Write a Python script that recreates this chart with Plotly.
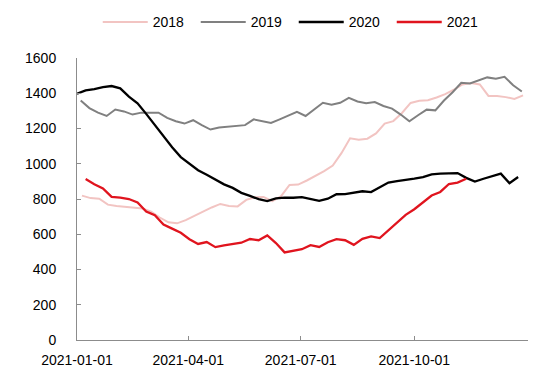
import pandas as pd
import plotly.graph_objects as go

# ---- data (weekly observations, mapped onto a 2021 calendar) ----
series_names = ["2018", "2019", "2020", "2021"]
start_dates = ["2021-01-05", "2021-01-04", "2021-01-01", "2021-01-08"]

values_2018 = [819, 805, 802, 768, 760, 756, 750, 746, 728, 695, 668, 662, 680, 705,
               728, 752, 772, 760, 758, 795, 810, 812, 788, 815, 880, 882, 905, 930,
               958, 990, 1060, 1144, 1136, 1142, 1172, 1228, 1242, 1288, 1345, 1357,
               1360, 1376, 1395, 1420, 1450, 1458, 1450, 1385, 1384, 1378, 1368, 1388]
values_2019 = [1359, 1316, 1290, 1271, 1308, 1297, 1279, 1290, 1290, 1290, 1260, 1241,
               1228, 1247, 1219, 1194, 1206, 1210, 1213, 1219, 1252, 1241, 1232, 1252,
               1271, 1294, 1271, 1308, 1346, 1335, 1346, 1374, 1353, 1344, 1350, 1328,
               1313, 1279, 1241, 1275, 1307, 1303, 1359, 1406, 1459, 1456, 1475, 1490,
               1482, 1493, 1445, 1410]
values_2020 = [1397, 1416, 1424, 1435, 1441, 1428, 1381, 1343, 1283, 1220, 1159, 1094,
               1038, 1003, 963, 937, 908, 883, 863, 835, 818, 799, 788, 803, 808, 807,
               811, 798, 789, 802, 827, 828, 838, 844, 839, 866, 893, 901, 907, 915,
               924, 940, 944, 945, 947, 920, 899, 915, 929, 944, 890, 925]
values_2021 = [913, 884, 860, 812, 808, 800, 780, 729, 708, 655, 632, 608, 572, 545,
               556, 527, 537, 546, 552, 573, 566, 593, 550, 497, 505, 515, 538, 528,
               555, 572, 566, 540, 574, 588, 578, 622, 668, 710, 742, 780, 820, 840,
               885, 893, 915]
series_values = [values_2018, values_2019, values_2020, values_2021]

x_tick_values = ["2021-01-01", "2021-04-01", "2021-07-01", "2021-10-01", "2022-01-01"]
x_tick_labels = ["2021-01-01", "2021-04-01", "2021-07-01", "2021-10-01", ""]
y_tick_values = [0, 200, 400, 600, 800, 1000, 1200, 1400, 1600]

# ---- styles ----
colors = ["#F2C4C2", "#808080", "#000000", "#E0141E"]
widths = [2, 2, 2.3, 2.3]
axis_grey = "#8C8C8C"
font_family = "Liberation Sans, Arial, sans-serif"

fig = go.Figure()
for name, start, vals, col, w in zip(series_names, start_dates, series_values, colors, widths):
    dates = pd.date_range(start=start, periods=len(vals), freq="7D")
    fig.add_trace(go.Scatter(x=dates, y=vals, mode="lines", name=name,
                             line=dict(color=col, width=w)))

fig.update_layout(
    width=550, height=373,
    margin=dict(l=69, r=30, t=50, b=41, autoexpand=False),
    paper_bgcolor="white", plot_bgcolor="white",
    font=dict(family=font_family, size=14, color="#000000"),
    showlegend=True,
    legend=dict(orientation="h", x=0.046, xanchor="left", y=1.183, yanchor="top",
                font=dict(size=14), itemwidth=45,
                entrywidth=38, entrywidthmode="pixels",
                bgcolor="rgba(0,0,0,0)"),
)

fig.update_xaxes(
    type="date", range=["2021-01-01", "2022-01-01"],
    tickmode="array", tickvals=x_tick_values, ticktext=x_tick_labels,
    showline=True, linecolor=axis_grey, linewidth=1,
    ticks="inside", ticklen=4, tickcolor=axis_grey, tickwidth=1,
    showgrid=False, zeroline=False, ticklabelstandoff=7, automargin=False,
)
fig.update_yaxes(
    range=[0, 1600], tickmode="array", tickvals=y_tick_values,
    showline=True, linecolor=axis_grey, linewidth=1,
    ticks="inside", ticklen=4, tickcolor=axis_grey, tickwidth=1,
    showgrid=False, zeroline=False, ticklabelstandoff=17, automargin=False,
)

fig.write_html("out.html")
